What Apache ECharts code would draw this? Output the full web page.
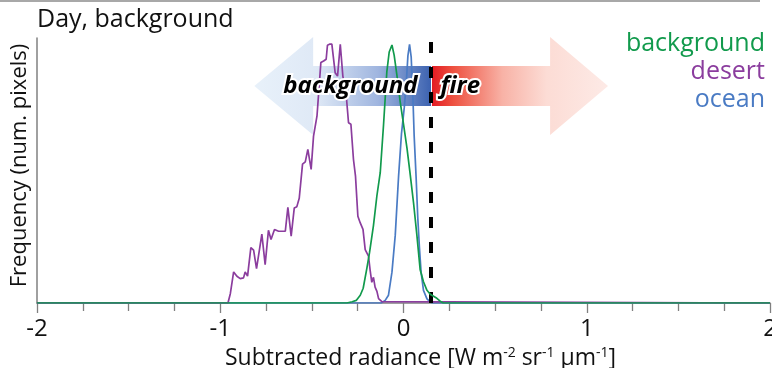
<!DOCTYPE html>
<html>
<head>
<meta charset="utf-8">
<script src="https://cdn.jsdelivr.net/npm/echarts@6/dist/echarts.min.js"></script>
<style>
html,body{margin:0;padding:0;background:#fff;}
#chart{width:772px;height:368px;}
</style>
</head>
<body>
<div id="chart"></div>
<script>
// ---- data ----
const titleText = 'Day, background';
const xTickLabels = ['-2', '-1', '0', '1', '2'];
const seriesNames = ['background', 'desert', 'ocean'];
const fireThreshold = 0.15;

const desertX = [-0.958,-0.945,-0.927,-0.909,-0.891,-0.873,-0.864,-0.851,-0.833,-0.818,-0.802,-0.773,-0.755,-0.737,-0.723,-0.704,-0.682,-0.645,-0.631,-0.613,-0.596,-0.582,-0.569,-0.551,-0.536,-0.522,-0.504,-0.491,-0.472,-0.451,-0.436,-0.422,-0.415,-0.404,-0.391,-0.373,-0.360,-0.345,-0.331,-0.313,-0.300,-0.287,-0.273,-0.262,-0.249,-0.236,-0.221,-0.209,-0.191,-0.182,-0.173,-0.164,-0.155,-0.145,-0.136,-0.118,-0.109];
const desertY = [0,3.6,12.0,10.3,9.4,9.7,12.0,10.4,21.4,20.4,13.3,26.6,14.8,28.1,24.5,28.4,27.7,27.7,36.9,25.8,36.7,37.2,40.4,53.6,54.5,59.3,51.6,64.4,72.2,92.8,93.4,94.1,99.5,99.9,99.9,88.9,87.6,99.9,87.6,80.6,69.6,69.0,55.4,49.0,33.5,30.9,28.4,20.6,18.1,12.6,8.0,9.9,6.1,4.5,1.7,0.5,0];

const backgroundX = [-0.309,-0.280,-0.258,-0.236,-0.220,-0.200,-0.185,-0.164,-0.145,-0.127,-0.109,-0.091,-0.078,-0.063,-0.051,-0.036,-0.018,0.000,0.019,0.037,0.055,0.073,0.091,0.109,0.128,0.146,0.164,0.182,0.200,0.217];
const backgroundY = [0,0.5,1.0,3.0,5.7,13.4,19.6,29.9,41.5,50.3,68.7,89.2,96.9,99.6,95.7,88.0,77.6,69.1,59.8,49.4,38.5,26.2,12.8,8.2,4.9,3.4,2.6,1.8,0.7,0];

const oceanX = [-0.122,-0.100,-0.082,-0.063,-0.045,-0.027,-0.011,0.004,0.015,0.024,0.033,0.042,0.051,0.058,0.069,0.078,0.087,0.096,0.109,0.128,0.146,0.157];
const oceanY = [0,1.0,3.0,11.9,26.2,48.8,65.4,75.3,84.6,95.4,99.8,94.9,80.3,64.8,48.2,32.8,21.3,11.9,4.9,1.6,0.4,0];

const colors = {background: '#119a4c', desert: '#8b3d9e', ocean: '#4a7bc4'};
const FONT = 'Open Sans';

function pairs(xs, ys) {
  const out = [[-2, 0]];
  for (let i = 0; i < xs.length; i++) out.push([xs[i], ys[i]]);
  out.push([2, 0]);
  return out;
}

const chart = echarts.init(document.getElementById('chart'), null, {renderer: 'canvas'});

const lineSeries = (name, data, z) => ({
  name, type: 'line', data, showSymbol: false, symbol: 'none', z,
  lineStyle: {color: colors[name], width: 1.7},
  itemStyle: {color: colors[name]},
  animation: false
});

const bgSeries = lineSeries('background', pairs(backgroundX, backgroundY), 5);
bgSeries.markLine = {
  silent: true, symbol: 'none', animation: false,
  label: {show: false},
  lineStyle: {color: '#000', width: 4, type: [11, 14]},
  data: [{xAxis: fireThreshold}]
};

chart.setOption({
  animation: false,
  textStyle: {fontFamily: FONT},
  title: {
    text: titleText, left: 32, top: 2,
    textStyle: {fontFamily: FONT, fontSize: 25, fontWeight: 'normal', color: '#111'}
  },
  legend: {
    orient: 'vertical', right: 2, top: 31, align: 'right', padding: 0,
    icon: 'none', itemWidth: 0, itemHeight: 0, itemGap: 3,
    selectedMode: false,
    textStyle: {fontFamily: FONT, fontSize: 25, padding: 0},
    data: seriesNames.map(n => ({name: n, textStyle: {color: colors[n]}}))
  },
  grid: {left: 37, right: 2, top: 38, bottom: 65, containLabel: false, outerBoundsMode: 'none'},
  xAxis: {
    type: 'value', min: -2, max: 2, interval: 1,
    axisLine: {show: true, onZero: false, lineStyle: {color: '#808080', width: 1.5}},
    axisTick: {show: true, length: 10, lineStyle: {color: '#808080', width: 1.3}},
    minorTick: {show: true, splitNumber: 4, length: 8, lineStyle: {color: '#808080', width: 1.3}},
    splitLine: {show: false},
    minorSplitLine: {show: false},
    axisLabel: {
      fontFamily: FONT, fontSize: 24, color: '#111', margin: 14,
      formatter: v => xTickLabels[Math.round(v) + 2]
    },
    name: 'Subtracted radiance [W m{s|-2} sr{s|-1} μm{s|-1}]',
    nameLocation: 'middle', nameGap: 40,
    nameTextStyle: {
      fontFamily: FONT, fontSize: 23, color: '#111', padding: [0, 0, 0, 34],
      rich: {s: {fontFamily: FONT, fontSize: 14, color: '#111', padding: [0, 0, 12, 0]}}
    }
  },
  yAxis: {
    type: 'value', min: 0, max: 102.3,
    axisLine: {show: true, onZero: false, lineStyle: {color: '#808080', width: 1.5}},
    axisTick: {show: false}, axisLabel: {show: false}, splitLine: {show: false},
    name: 'Frequency (num. pixels)', nameLocation: 'middle', nameGap: 6,
    nameTextStyle: {fontFamily: FONT, fontSize: 22, color: '#111', padding: [0, 0, 0, 10]}
  },
  series: [
    lineSeries('ocean', pairs(oceanX, oceanY), 3),
    lineSeries('desert', pairs(desertX, desertY), 4),
    bgSeries
  ]
});

// ---- annotation arrows anchored to data x-positions ----
const px = v => chart.convertToPixel({xAxisIndex: 0}, v);
const headTop = 37, headBot = 135, tipY = 86, shaftTop = 66, shaftBot = 106;
const thr = px(fireThreshold);
const leftTip = px(-0.814), leftHeadBase = px(-0.493);
const rightHeadBase = px(0.80), rightTip = px(1.116);

const blueGrad = new echarts.graphic.LinearGradient(0, 0, 1, 0, [
  {offset: 0, color: '#e8f1fa'},
  {offset: 0.35, color: '#dfe9f6'},
  {offset: 0.7, color: '#9fb5df'},
  {offset: 1, color: '#3c62b0'}
]);
const redGrad = new echarts.graphic.LinearGradient(0, 0, 1, 0, [
  {offset: 0, color: '#e31b23'},
  {offset: 0.12, color: '#ee5140'},
  {offset: 0.4, color: '#f8b2a6'},
  {offset: 0.65, color: '#fcdcd5'},
  {offset: 1, color: '#fdeae6'}
]);

chart.setOption({
  graphic: [
    {type: 'line', z: 0, silent: true,
     shape: {x1: 0, y1: 1, x2: 760, y2: 1}, style: {stroke: '#a8a8a8', lineWidth: 2}},
    {type: 'polygon', z: 0, silent: true,
     shape: {points: [[leftTip, tipY], [leftHeadBase, headTop], [leftHeadBase, shaftTop], [thr, shaftTop], [thr, shaftBot], [leftHeadBase, shaftBot], [leftHeadBase, headBot]]},
     style: {fill: blueGrad}},
    {type: 'polygon', z: 0, silent: true,
     shape: {points: [[thr + 1, shaftTop], [rightHeadBase, shaftTop], [rightHeadBase, headTop], [rightTip, tipY], [rightHeadBase, headBot], [rightHeadBase, shaftBot], [thr + 1, shaftBot]]},
     style: {fill: redGrad}},
    {type: 'text', z: 100, silent: true,
     x: px(-0.29), y: tipY,
     style: {text: 'background', fontFamily: FONT, fontSize: 24, fontStyle: 'italic', fontWeight: 'bold',
             fill: '#000', stroke: '#fff', lineWidth: 4, strokeFirst: true, align: 'center', verticalAlign: 'middle'}},
    {type: 'text', z: 100, silent: true,
     x: px(0.31), y: tipY,
     style: {text: 'fire', fontFamily: FONT, fontSize: 24, fontStyle: 'italic', fontWeight: 'bold',
             fill: '#000', stroke: '#fff', lineWidth: 4, strokeFirst: true, align: 'center', verticalAlign: 'middle'}}
  ]
});
</script>
</body>
</html>
